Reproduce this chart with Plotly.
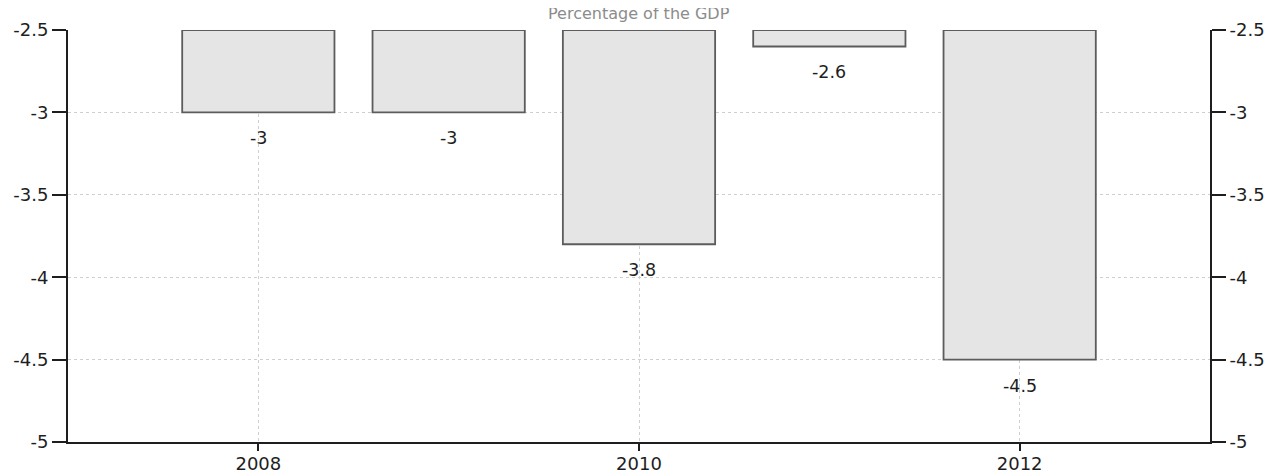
import plotly.graph_objects as go

years = [2008, 2009, 2010, 2011, 2012]
values = [-3.0, -3.0, -3.8, -2.6, -4.5]
labels = ["-3", "-3", "-3.8", "-2.6", "-4.5"]
x_ticks = [2008, 2010, 2012]
y_ticks = [-5, -4.5, -4, -3.5, -3, -2.5]
y_tick_text = ["-5", "-4.5", "-4", "-3.5", "-3", "-2.5"]
title_text = "Percentage of the GDP"

base_level = max(y_ticks)
font_family = "DejaVu Sans, Verdana, sans-serif"
text_color = "#1e1e1e"

fig = go.Figure()
fig.add_trace(go.Bar(
    x=years,
    y=[v - base_level for v in values],
    base=base_level,
    width=0.8,
    marker=dict(color="#e5e5e5", line=dict(color="#5c5c5c", width=1.8)),
    hoverinfo="skip",
    cliponaxis=False,
))
# invisible trace carrying the right-hand axis
fig.add_trace(go.Scatter(x=years, y=values, yaxis="y2", mode="markers",
                         marker=dict(opacity=0), hoverinfo="skip", showlegend=False))

for x, v, t in zip(years, values, labels):
    fig.add_annotation(x=x, y=v, text=t, showarrow=False, yshift=-26,
                       font=dict(family=font_family, size=17.5, color=text_color))

fig.add_annotation(xref="paper", yref="paper", x=0.5, y=1, yanchor="middle",
                   yshift=17, text=title_text, showarrow=False,
                   font=dict(family=font_family, size=16, color="#8c8c8c"))

axis_common = dict(
    range=[-5, -2.5], tickvals=y_ticks, ticktext=y_tick_text,
    ticks="outside", ticklen=14, tickcolor="#1e1e1e", tickwidth=2,
    showline=True, linecolor="#1e1e1e", linewidth=2,
    tickfont=dict(family=font_family, size=18, color=text_color),
    zeroline=False, fixedrange=True, automargin=False,
)

fig.update_layout(
    width=1264, height=467,
    margin=dict(l=60, r=62, t=22, b=33),
    plot_bgcolor="white", paper_bgcolor="white",
    showlegend=False,
    xaxis=dict(range=[2007, 2013], tickvals=x_ticks, ticktext=[str(t) for t in x_ticks],
               ticks="outside", ticklen=7, tickcolor="#1e1e1e", tickwidth=2,
               ticklabelstandoff=-3,
               showline=True, linecolor="#1e1e1e", linewidth=2,
               showgrid=True, gridcolor="#cfcfcf", griddash="dot", gridwidth=1,
               tickfont=dict(family=font_family, size=18, color=text_color),
               zeroline=False, automargin=False),
    yaxis=dict(**axis_common, side="left", showgrid=True, gridcolor="#cfcfcf",
               griddash="dot", gridwidth=1),
    yaxis2=dict(**axis_common, side="right", overlaying="y", showgrid=False),
    bargap=0.2,
)

fig.write_html("out.html")
